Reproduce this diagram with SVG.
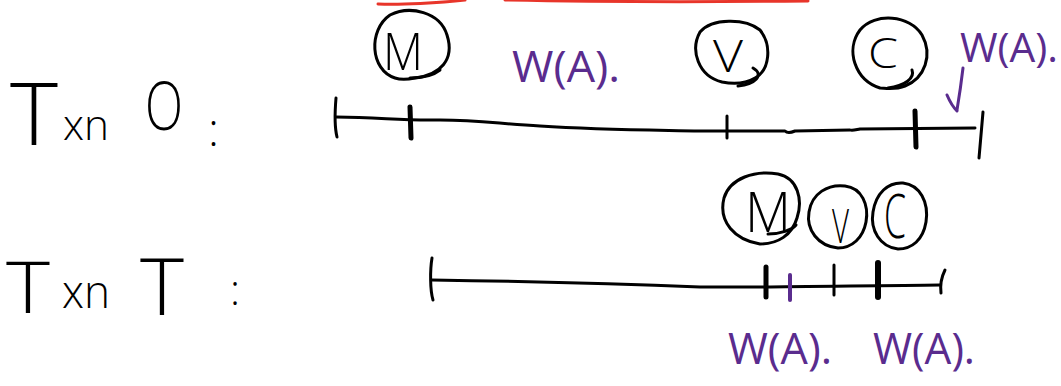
<svg xmlns="http://www.w3.org/2000/svg" width="1061" height="386" viewBox="0 0 1061 386">
<style>
.ink{fill:none;stroke:#000;stroke-width:3;stroke-linecap:round;stroke-linejoin:round}
.thick{stroke-width:5}
.pur{fill:none;stroke:#5a2c8e;stroke-width:3;stroke-linecap:round;stroke-linejoin:round}
.red{fill:none;stroke:#e8352a;stroke-width:3;stroke-linecap:round}
.t{font-family:"Open Sans","Liberation Sans",Arial,sans-serif;font-weight:300;fill:#000}
.p{font-family:"Open Sans","Liberation Sans",Arial,sans-serif;font-weight:400;fill:#5a2c8e}
</style>
<rect width="1061" height="386" fill="#fff"/>
<g id="redline">
<path class="red" d="M378,4 C400,5 440,3 465,0"/>
<path class="red" d="M505,0 C600,2 700,2 808,1"/>
</g>
<g id="label-txn-o">
<text class="t" x="10" y="145" font-size="86" textLength="48" lengthAdjust="spacingAndGlyphs">T</text>
<text class="t" x="63" y="140" font-size="42" textLength="46" lengthAdjust="spacingAndGlyphs">xn</text>
<text class="t" x="145" y="130" font-size="66" textLength="38" lengthAdjust="spacingAndGlyphs">O</text>
<text class="t" x="208" y="146" font-size="46">:</text>
</g>
<g id="label-txn-t">
<text class="t" x="6" y="313" font-size="72" textLength="44" lengthAdjust="spacingAndGlyphs">T</text>
<text class="t" x="62" y="308" font-size="46" textLength="48" lengthAdjust="spacingAndGlyphs">xn</text>
<text class="t" x="140" y="315" font-size="80" textLength="44" lengthAdjust="spacingAndGlyphs">T</text>
<text class="t" x="230" y="305" font-size="42">:</text>
</g>
<g id="connectors">
<g id="timeline-o">
<path class="ink" d="M336,117 C380,117 400,121 440,120 C480,120 500,124 540,126 C600,130 650,130 700,131 L785,131 C787,133 790,133 795,131 L850,130 C852,131 855,130 860,129 L975,128"/>
<path class="ink" d="M336,98 C335,110 334,125 337,137"/>
<path class="ink" d="M983,112 L979,158"/>
<path class="ink thick" d="M410,107 L411,138"/>
<path class="ink" d="M727,116 L727,138"/>
<path class="ink thick" d="M915,111 L916,147"/>
</g>
<g id="timeline-t">
<path class="ink" d="M432,280 C500,281 600,283 700,287 L765,287 C800,286 880,286 940,285"/>
<path class="ink" d="M432,258 C430,270 430,290 433,300"/>
<path class="ink" d="M945,270 C941,278 940,285 941,293"/>
<path class="ink thick" d="M766,267 L766,297"/>
<path class="pur" style="stroke-width:4" d="M790,275 L790,300"/>
<path class="ink" d="M834,265 L834,295"/>
<path class="ink" style="stroke-width:6" d="M878,263 L878,297"/>
</g>
<g id="arrow">
<path class="pur" d="M963,68 C961,85 959,98 957,110"/>
<path class="pur" d="M947,95 C950,102 953,107 957,111"/>
</g>
</g>
<g id="node-m-top">
<path class="ink" d="M395,78 C370,70 368,30 390,15 C410,5 440,12 447,35 C455,60 440,75 415,78 C405,80 398,79 395,78"/>
<path class="ink" d="M410,78 C425,78 435,74 440,70"/>
<text class="t" x="383" y="70" font-size="52" textLength="40" lengthAdjust="spacingAndGlyphs">M</text>
</g>
<g id="node-v-top">
<path class="ink" d="M722,82 C698,76 690,50 700,32 C712,18 745,18 760,30 C772,45 770,70 755,78 C745,84 732,84 722,82"/>
<path class="ink" d="M738,86 C755,84 765,75 753,68"/>
<text class="t" x="713" y="72" font-size="44" textLength="30" lengthAdjust="spacingAndGlyphs">V</text>
</g>
<g id="node-c-top">
<path class="ink" d="M880,88 C855,80 845,50 860,30 C875,12 910,15 922,35 C933,55 925,78 905,86 C895,90 885,88 880,88"/>
<path class="ink" d="M888,88 C905,86 915,78 912,70"/>
<text class="t" x="868" y="68" font-size="42" textLength="30" lengthAdjust="spacingAndGlyphs">C</text>
</g>
<g id="node-m-bottom">
<path class="ink" d="M760,244 C735,240 718,222 724,198 C730,178 755,170 778,174 C798,178 803,200 797,218 C792,235 778,244 760,244"/>
<path class="ink" d="M768,234 C780,234 792,230 796,225"/>
<text class="t" x="745" y="232" font-size="56" textLength="46" lengthAdjust="spacingAndGlyphs">M</text>
</g>
<g id="node-v-bottom">
<path class="ink" d="M838,248 C818,246 806,230 809,212 C812,193 828,184 845,186 C862,188 869,205 866,222 C863,238 852,248 838,248"/>
<text class="t" x="832" y="243" font-size="48" textLength="17" lengthAdjust="spacingAndGlyphs">V</text>
</g>
<g id="node-c-bottom">
<path class="ink" d="M898,249 C880,247 870,230 873,212 C876,193 888,182 903,183 C920,185 929,202 926,222 C923,240 912,249 898,249"/>
<text class="t" x="884" y="238" font-size="60" textLength="22" lengthAdjust="spacingAndGlyphs">C</text>
</g>
<g id="labels-wa">
<text class="p" x="512" y="82" font-size="44" textLength="108" lengthAdjust="spacingAndGlyphs">W(A).</text>
<text class="p" x="960" y="62" font-size="40" textLength="98" lengthAdjust="spacingAndGlyphs">W(A).</text>
<text class="p" x="728" y="364" font-size="44" textLength="104" lengthAdjust="spacingAndGlyphs">W(A).</text>
<text class="p" x="873" y="364" font-size="44" textLength="102" lengthAdjust="spacingAndGlyphs">W(A).</text>
</g>
</svg>
